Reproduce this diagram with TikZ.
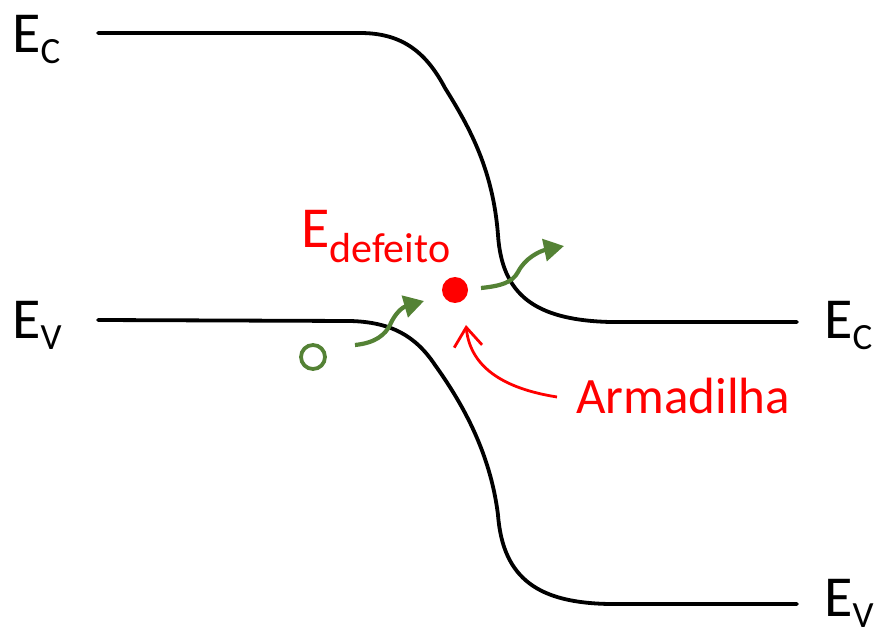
\documentclass[tikz,border=0pt]{standalone}
\usepackage{fontspec}
\setmainfont{Carlito}
\usetikzlibrary{arrows.meta}
\definecolor{trapred}{RGB}{255,0,0}
\definecolor{carriergreen}{RGB}{84,130,53}
\newcommand{\lvl}[1]{{\fontsize{58}{60}\selectfont E}\raisebox{-11pt}{\fontsize{37}{40}\selectfont #1}}
\begin{document}
\begin{tikzpicture}[x=1pt,y=-1pt,
  band/.style={line width=3.8pt,black,line cap=round},
  hop/.style={line width=4.2pt,carriergreen,-{Triangle[length=20pt,width=22pt]}},
  lbl/.style={inner sep=0pt,anchor=base west}]
\useasboundingbox (0,0) rectangle (878,636);

% conduction band edge
\coordinate (cl) at (98,33);
\coordinate (cr) at (797,322);
\draw[band] (cl) -- (360,33) .. controls (400,33) and (425,50) .. (445,88)
  .. controls (470,128) and (493,170) .. (498,235)
  .. controls (502,295) and (535,320) .. (610,322) -- (cr);

% valence band edge
\coordinate (vl) at (98,320);
\coordinate (vr) at (797,604);
\draw[band] (vl) -- (350,321) .. controls (390,322) and (415,335) .. (435,365)
  .. controls (460,400) and (490,450) .. (498,515)
  .. controls (503,580) and (540,603) .. (610,604) -- (vr);

% band labels
\node[lbl] (ecl) at (12,53) {\lvl{C}};
\node[lbl] (evl) at (12,338) {\lvl{V}};
\node[lbl] (ecr) at (824,338) {\lvl{C}};
\node[lbl] (evr) at (824,616) {\lvl{V}};

% defect level
\node[circle,fill=trapred,minimum size=26pt,inner sep=0pt] (trap) at (455,290) {};
\node[lbl,text=trapred] (edef) at (301,248)
  {{\fontsize{58}{60}\selectfont E}\raisebox{-15pt}{\fontsize{42}{44}\selectfont defeito}};

% hole
\node[circle,draw=carriergreen,line width=3.8pt,minimum size=24pt,inner sep=0pt] (hole) at (313,357) {};

% carrier transitions
\coordinate (h1s) at (355,345);
\coordinate (h1e) at (424,301);
\draw[hop] (h1s) .. controls (375,343) and (385,335) .. (390,325)
  .. controls (395,313) and (403,307) .. (h1e);
\coordinate (h2s) at (481,288);
\coordinate (h2e) at (564,246);
\draw[hop] (h2s) .. controls (500,286) and (512,283) .. (518,272)
  .. controls (525,258) and (540,251) .. (h2e);

% trap label and pointer
\node[lbl,text=trapred] (arm) at (576,413) {\fontsize{51}{54}\selectfont Armadilha};
\coordinate (armp) at (557,397);
\coordinate (trapp) at (466,325);
\draw[trapred,line width=2.8pt,-{Straight Barb[length=19pt,width=28pt]}]
  (armp) .. controls (500,388) and (470,365) .. (trapp);
\end{tikzpicture}
\end{document}
